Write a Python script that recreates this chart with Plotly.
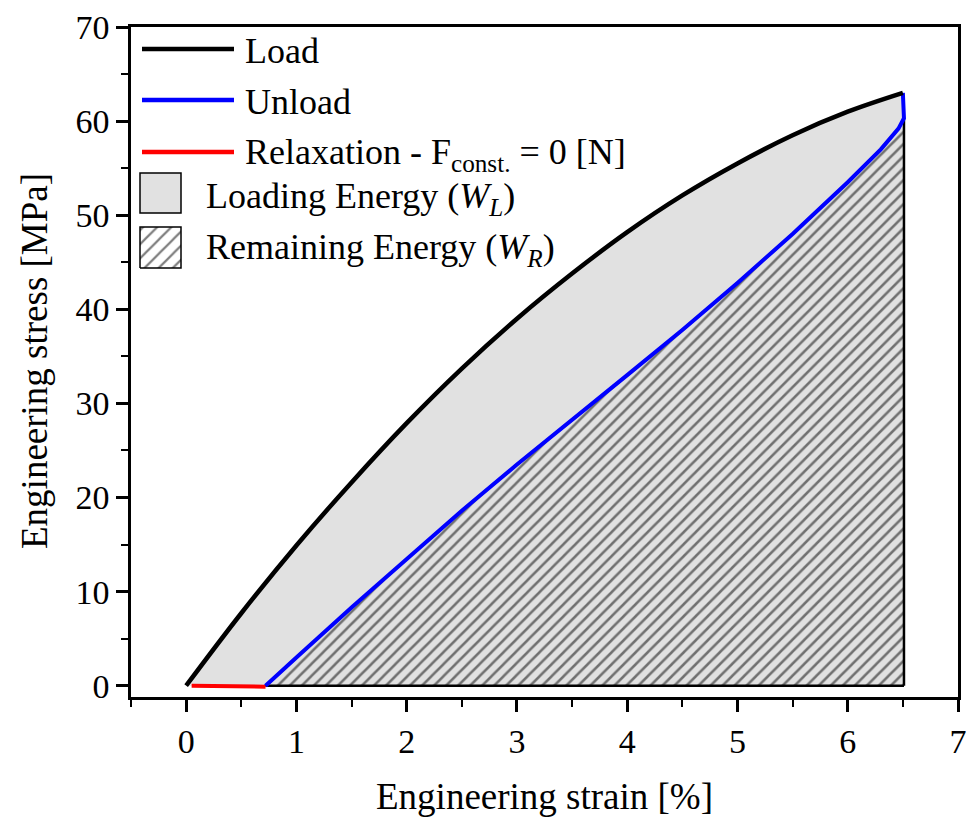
import plotly.graph_objects as go

# ---- data ----
load_x = [0, 0.5, 1.0, 1.5, 2.0, 2.5, 3.0, 3.5, 4.0, 4.5, 5.0, 5.5, 6.0, 6.5]
load_y = [0, 7.7, 14.9, 21.6, 27.9, 33.7, 39.0, 43.8, 48.2, 52.1, 55.5, 58.5, 61.0, 63.0]

unload_x = [6.5, 6.51, 6.51, 6.46, 6.3, 6.0, 5.5, 5.0, 4.5, 4.0, 3.5, 3.0, 2.5, 2.0, 1.5, 1.0, 0.72]
unload_y = [63.0, 61.5, 60.3, 59.2, 57.0, 53.5, 48.0, 42.8, 37.8, 33.0, 28.3, 23.5, 18.6, 13.5, 8.3, 3.0, 0.0]

relax_x = [0.72, 0.5, 0.3, 0.05]
relax_y = [-0.1, -0.05, -0.05, 0.0]

x_ticks = [0, 1, 2, 3, 4, 5, 6, 7]
y_ticks = [0, 10, 20, 30, 40, 50, 60, 70]

legend_labels = ["Load", "Unload", "Relaxation - F<sub>const.</sub> = 0 [N]",
                 "Loading Energy (<i>W<sub>L</sub></i>)", "Remaining Energy (<i>W<sub>R</sub></i>)"]

FONT = "Liberation Serif"
GRAY = "#e1e1e1"

fig = go.Figure()

# loading energy (gray area under load curve)
fig.add_trace(go.Scatter(
    x=load_x + [load_x[-1], load_x[0]], y=load_y + [0, 0],
    fill="toself", fillcolor=GRAY, line=dict(width=0), mode="lines",
    showlegend=False, hoverinfo="skip"))

# remaining energy (hatched area under unload curve)
rx = unload_x[2:] + [unload_x[-1], unload_x[2]]
ry = unload_y[2:] + [0, 0]
fig.add_trace(go.Scatter(
    x=[unload_x[2]] + rx, y=[0] + ry,
    fill="toself", fillcolor=GRAY,
    fillpattern=dict(shape="/", bgcolor=GRAY, fgcolor="black", size=8.5, solidity=0.3),
    line=dict(color="black", width=2.5), mode="lines",
    showlegend=False, hoverinfo="skip"))

fig.add_trace(go.Scatter(x=relax_x, y=relax_y, mode="lines",
                         line=dict(color="#ff0000", width=4), showlegend=False))
fig.add_trace(go.Scatter(x=unload_x, y=unload_y, mode="lines",
                         line=dict(color="#0000ff", width=4), showlegend=False))
fig.add_trace(go.Scatter(x=load_x, y=load_y, mode="lines", line_shape="spline",
                         line=dict(color="black", width=4.5), showlegend=False))

# ---- manual legend (paper-like overlay axes) ----
L, R, T, B = 131, 958, 27, 697
W, H = R - L, B - T
px = lambda v: (v - L) / W
py = lambda v: (B - v) / H

line_rows = [(49, "black"), (100, "#0000ff"), (152, "#ff0000")]
for (yy, col), lab in zip(line_rows, legend_labels[:3]):
    fig.add_shape(type="line", xref="paper", yref="paper",
                  x0=px(142), x1=px(234), y0=py(yy), y1=py(yy),
                  line=dict(color=col, width=4.5))
    fig.add_annotation(x=px(243), y=py(yy + 2), xref="paper", yref="paper",
                       text=lab, showarrow=False, xanchor="left", yanchor="middle",
                       font=dict(family=FONT, size=36, color="black"))

# gray box
fig.add_shape(type="rect", xref="paper", yref="paper",
              x0=px(140), x1=px(181), y0=py(213), y1=py(173),
              fillcolor=GRAY, line=dict(color="black", width=1.5))
fig.add_annotation(x=px(204), y=py(198), xref="paper", yref="paper",
                   text=legend_labels[3], showarrow=False, xanchor="left", yanchor="middle",
                   font=dict(family=FONT, size=36, color="black"))
# hatched box via overlay axes
fig.add_trace(go.Scatter(
    x=[px(140), px(181), px(181), px(140), px(140)],
    y=[py(268), py(268), py(227), py(227), py(268)],
    xaxis="x2", yaxis="y2", fill="toself", fillcolor="white",
    fillpattern=dict(shape="/", bgcolor="white", fgcolor="black", size=10, solidity=0.22),
    line=dict(color="black", width=1.5), mode="lines", showlegend=False, hoverinfo="skip"))
fig.add_annotation(x=px(204), y=py(249), xref="paper", yref="paper",
                   text=legend_labels[4], showarrow=False, xanchor="left", yanchor="middle",
                   font=dict(family=FONT, size=36, color="black"))

# axis titles
fig.add_annotation(x=px(544), y=py(796), xref="paper", yref="paper",
                   text="Engineering strain [%]", showarrow=False,
                   xanchor="center", yanchor="middle",
                   font=dict(family=FONT, size=37, color="black"))
fig.add_annotation(x=px(34), y=py(361), xref="paper", yref="paper",
                   text="Engineering stress [MPa]", showarrow=False, textangle=-90,
                   xanchor="center", yanchor="middle",
                   font=dict(family=FONT, size=37, color="black"))

axis_common = dict(showgrid=False, zeroline=False, showline=True, linecolor="black",
                   linewidth=2.5, mirror=True, ticks="outside", tickwidth=2.5,
                   ticklen=12, tickcolor="black", automargin=False,
                   tickfont=dict(family=FONT, size=34, color="black"))

fig.update_layout(
    width=968, height=817, plot_bgcolor="white", paper_bgcolor="white",
    margin=dict(l=L, r=968 - R, t=T, b=817 - B),
    showlegend=False,
    xaxis=dict(range=[-0.5, 7], tickvals=x_ticks,
               minor=dict(ticks="outside", ticklen=7, tickwidth=2, tickcolor="black", dtick=0.5, tick0=0),
               **axis_common),
    yaxis=dict(range=[-1.2, 70], tickvals=y_ticks,
               minor=dict(ticks="outside", ticklen=7, tickwidth=2, tickcolor="black", dtick=5, tick0=0),
               **axis_common),
    xaxis2=dict(overlaying="x", range=[0, 1], visible=False, fixedrange=True, automargin=False),
    yaxis2=dict(overlaying="y", range=[0, 1], visible=False, fixedrange=True, automargin=False),
)

fig.write_html("out.html")
